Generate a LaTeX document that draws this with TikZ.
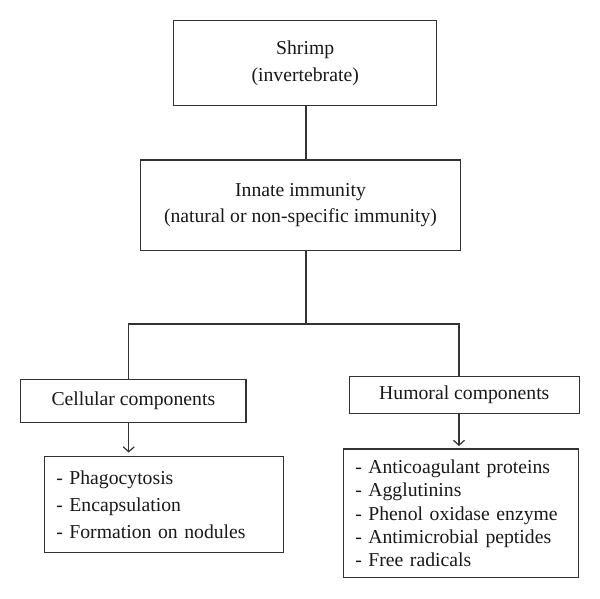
\documentclass[tikz,border=0pt]{standalone}
\usepackage{fontspec}
\setmainfont{Liberation Serif}
\usetikzlibrary{arrows.meta}
\begin{document}
\begin{tikzpicture}[x=1pt,y=-1pt,
  box/.style={draw=black!80, line width=1.2pt, text=black!90, inner sep=0pt, align=center,
    font=\fontsize{19.7}{27}\selectfont},
  conn/.style={draw=black!80, line width=1.2pt},
  arr/.style={conn, -{Straight Barb[length=5pt,width=11pt,line width=1.2pt]}}
]
\path[use as bounding box, fill=white] (0,0) rectangle (600,599);

\node[box, minimum width=263pt, minimum height=84.6pt] (shrimp) at (305.2,63) {Shrimp\\(invertebrate)};
\node[box, minimum width=320.4pt, minimum height=90.7pt, font=\fontsize{19.7}{25.5}\selectfont] (innate) at (300.5,205.3) {Innate immunity\\(natural or non-specific immunity)};
\node[box, minimum width=225.3pt, minimum height=43pt] (cellular) at (133.35,400.8) {Cellular components};
\node[box, minimum width=230pt, minimum height=36.6pt] (humoral) at (464.3,395) {Humoral components};

\node[box, minimum width=239pt, minimum height=96pt, align=left, text width=215pt, inner xsep=12pt,
  font=\fontsize{19.7}{26.7}\selectfont] (cells) at (163.8,504.7)
  {- Phagocytosis\\- Encapsulation\\- Formation on nodules};
\node[box, minimum width=235.4pt, minimum height=128.7pt, align=left, text width=211.4pt, inner xsep=12pt,
  font=\fontsize{19.7}{23.2}\selectfont] (hums) at (461,513.3)
  {- Anticoagulant proteins\\- Agglutinins\\- Phenol oxidase enzyme\\- Antimicrobial peptides\\- Free radicals};

\coordinate (j) at (306,324);
\coordinate (jl) at (128.7,324);
\coordinate (jr) at (459,324);

\draw[conn] (j |- shrimp.south) -- (j |- innate.north);
\draw[conn] (j |- innate.south) -- (j);
\draw[conn] (jl |- cellular.north) -- (jl) -- (jr) -- (jr |- humoral.north);
\draw[arr, shorten >=3.5pt] (jl |- cellular.south) -- (jl |- cells.north);
\draw[arr, shorten >=2.3pt] (jr |- humoral.south) -- (jr |- hums.north);
\end{tikzpicture}
\end{document}
